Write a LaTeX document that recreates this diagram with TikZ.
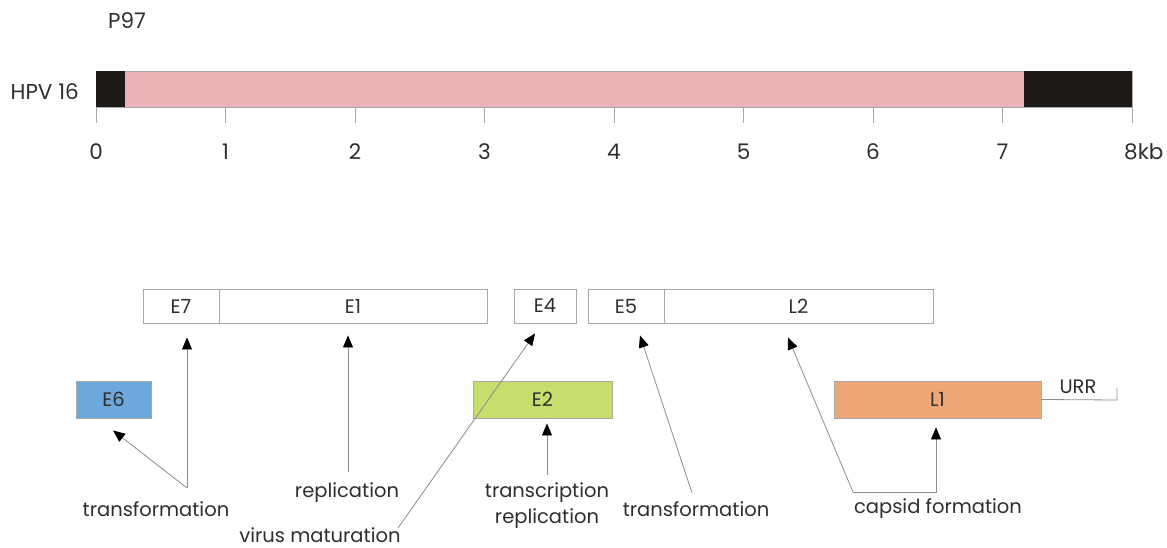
\documentclass[tikz,border=0pt]{standalone}
\usepackage{fontspec}
\setmainfont{Poppins}
\usetikzlibrary{arrows.meta,calc}
\definecolor{pinkbar}{HTML}{EBB3B6}
\definecolor{blackbar}{HTML}{1E1A18}
\definecolor{boxgray}{HTML}{A8A8A8}
\definecolor{linegray}{HTML}{8C8C8C}
\definecolor{txt}{HTML}{2E2E2E}
\definecolor{eblue}{HTML}{6CA8DC}
\definecolor{egreen}{HTML}{C6DE6C}
\definecolor{lorange}{HTML}{F0A674}
\newcommand{\fnt}{\fontsize{19.5}{23}\selectfont}
\newcommand{\bigfnt}{\fontsize{21.5}{25}\selectfont}
\tikzset{
  gbox/.style={draw=boxgray, line width=0.9pt, inner sep=0pt, font=\fnt, text=txt},
  arr/.style={draw=linegray, line width=0.8pt, -{Triangle[length=12pt,width=10pt,color=black]}},
  plain/.style={draw=linegray, line width=0.8pt},
  lbl/.style={font=\fnt, text=txt, inner sep=0pt},
  toplbl/.style={font=\bigfnt, text=txt, inner sep=0pt},
  tick/.style={draw=boxgray, line width=1pt},
}
\begin{document}
\begin{tikzpicture}[x=1pt,y=-1pt]
\useasboundingbox (0,0) rectangle (1167,548);
% genome bar
\filldraw[fill=pinkbar, draw=boxgray, line width=0.8pt] (96,71) rectangle (1132,107);
\fill[blackbar] (96,71) rectangle (125,107);
\fill[blackbar] (1024,71) rectangle (1132,107);
\node[toplbl, anchor=east] (hpv) at (79,92) {HPV 16};
\node[toplbl] (p97) at (127,21) {P97};
\foreach \i in {0,...,7}{
  \draw[tick] (96+129.5*\i,107) -- (96+129.5*\i,123);
  \node[toplbl] (t\i) at (96+129.5*\i,152) {\i};
}
\draw[tick] (1132,107) -- (1132,123);
\node[toplbl, anchor=west] (t8) at (1124,152) {8kb};
% gene boxes
\node[gbox, minimum width=76pt, minimum height=34pt] (E7) at (181,306) {E7};
\node[gbox, minimum width=268pt, minimum height=34pt] (E1) at (353,306) {E1};
\node[gbox, minimum width=62pt, minimum height=34pt] (E4) at (545,306) {E4};
\node[gbox, minimum width=76pt, minimum height=34pt] (E5) at (626,306) {E5};
\node[gbox, minimum width=269pt, minimum height=34pt] (L2) at (798.5,306) {L2};
\node[gbox, fill=eblue, minimum width=75pt, minimum height=37pt] (E6) at (113.5,399.5) {E6};
\node[gbox, fill=egreen, minimum width=139pt, minimum height=37pt] (E2) at (542.5,399.5) {E2};
\node[gbox, fill=lorange, minimum width=207pt, minimum height=37pt] (L1) at (937.5,399.5) {L1};
% labels
\node[lbl] (trL) at (156,509) {transformation};
\node[lbl] (repl) at (347,493) {replication};
\node[lbl] (vm) at (320,535) {virus maturation};
\node[lbl, align=center, font=\fontsize{19.5}{26}\selectfont] (tcr) at (547,506) {transcription\\replication};
\node[lbl] (trR) at (696,509) {transformation};
\node[lbl] (cf) at (938,509) {capsid formation};
\node[lbl] (urr) at (1078,387) {URR};
% connectors
\coordinate (j1) at (187,488);
\coordinate (sRepl) at (348,472);
\coordinate (sVm) at (398,528);
\coordinate (sTc) at (547,475);
\coordinate (sTrR) at (692,493);
\draw[arr] (j1) -- ($(E6.south)+(-0.5,12)$);
\draw[arr] (j1) -- ($(E7.south)+(6,14)$);
\draw[arr] (sRepl) -- ($(E1.south)+(-5,12)$);
\draw[arr] (sVm) -- ($(E4.south)+(-10,10)$);
\draw[arr] (sTc) -- ($(E2.south)+(4.5,5)$);
\draw[arr] (sTrR) -- ($(E5.south)+(14,12)$);
\coordinate (j2) at (853,492);
\coordinate (j3) at (936,492);
\draw[arr] (j2) -- ($(L2.south)+(-10.5,14)$);
\draw[arr] (j2) -- (j3) -- ($(L1.south)+(-1.5,9)$);
\coordinate (u1) at (1117,400);
\draw[plain] (L1.east) -- (u1) -- ++(0,-12);
\end{tikzpicture}
\end{document}
